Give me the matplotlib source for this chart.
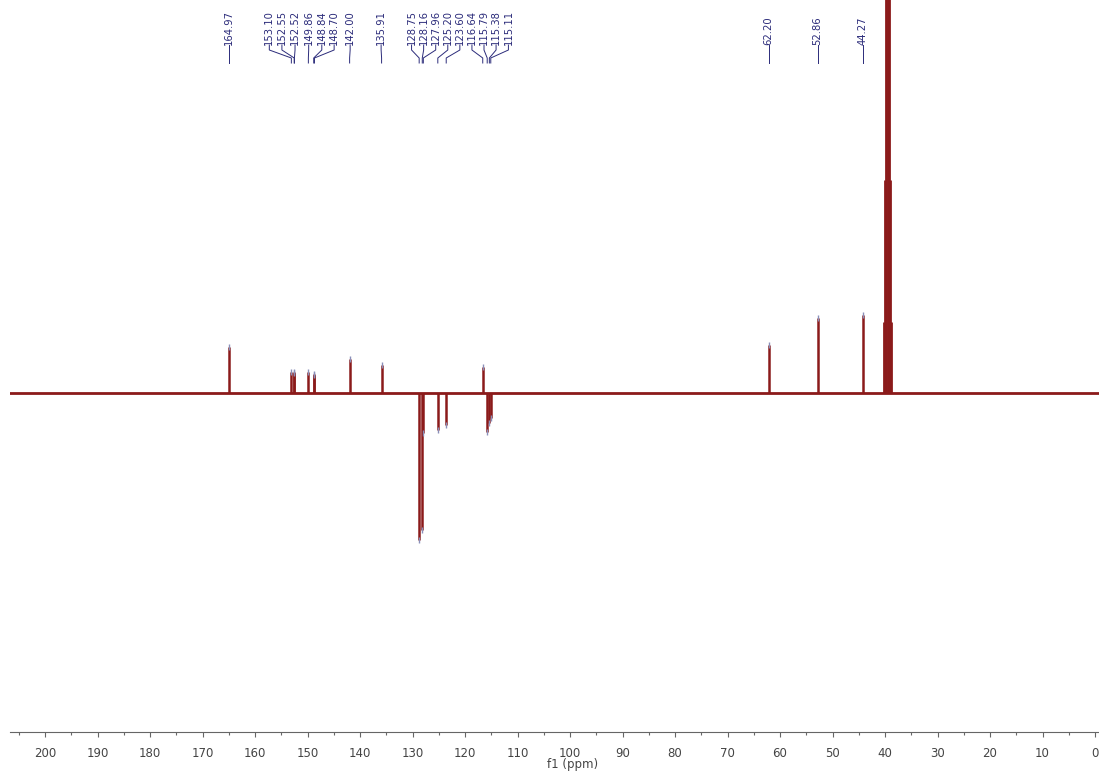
import numpy as np
import matplotlib
matplotlib.use("Agg")
import matplotlib.pyplot as plt
from matplotlib.ticker import MultipleLocator
import matplotlib.transforms as mtransforms

# picked peaks (ppm) and their heights (positive = CH/CH3, negative = CH2)
shift = [164.97, 153.10, 152.55, 152.52, 149.86, 148.84, 148.70, 142.00, 135.91,
         128.75, 128.16, 127.96, 125.20, 123.60, 116.64, 115.79, 115.38, 115.11,
         62.20, 52.86, 44.27]
height = [46, 21, 20, 21, 21, 19, 18, 34, 28,
          -147, -137, -40, -37, -32, 26, -39, -30, -25,
          48, 75, 78]

# where each label sits along the ppm axis (spread out from the peak)
label_pos = [164.97, 157.3, 154.9, 152.4, 149.8, 147.3, 144.95, 141.9, 136.0,
             130.2, 127.9, 125.6, 123.3, 121.0, 118.7, 116.4, 114.1, 111.75,
             62.20, 52.86, 44.27]

# DMSO-d6 septet, not labelled
solvent_shift = [40.15, 39.94, 39.73, 39.52, 39.31, 39.10, 38.89]
solvent_height = [71, 213, 426, 497, 426, 213, 71]

trace = "#8b1a1a"
lab_col = "#2b2b7a"

fig = plt.figure(figsize=(10.99, 7.73), dpi=100)
ax = fig.add_axes([10 / 1099, 41 / 773, 1089 / 1099, 732 / 773])

ax.axhline(0, color=trace, lw=2.0, zorder=2)
ax.vlines(shift, 0, height, color=trace, lw=1.8, zorder=3)
ax.vlines(solvent_shift, 0, solvent_height, color=trace, lw=2.0, zorder=3)
ax.plot(shift, height, "|", color="#8a8fb8", ms=5, mew=1, zorder=4)

ax.set_xlim(206.7, -0.76)
ax.set_ylim(-339, 393)

# labels with leader lines, y in axes fraction
tr = mtransforms.blended_transform_factory(ax.transData, ax.transAxes)
def fy(p):
    return (732 - p) / 732.0

for s, lx in zip(shift, label_pos):
    ax.text(lx, fy(45), "{:.2f}".format(s), rotation=90, ha="center", va="bottom",
            fontsize=7.2, color=lab_col, transform=tr)
    ax.plot([lx, lx, s, s], [fy(45), fy(50), fy(58), fy(63)],
            color=lab_col, lw=0.7, transform=tr, clip_on=False)

for side in ["left", "right", "top"]:
    ax.spines[side].set_visible(False)
ax.spines["bottom"].set_color("#666666")
ax.spines["bottom"].set_linewidth(0.8)
ax.set_yticks([])
ax.set_xticks(np.arange(0, 201, 10))
ax.xaxis.set_minor_locator(MultipleLocator(5))
ax.tick_params(axis="x", which="major", direction="out", length=3.6, width=0.8,
               color="#666666", labelsize=8.5, labelcolor="#444444", pad=7)
ax.tick_params(axis="x", which="minor", direction="out", length=2.2, width=0.8,
               color="#666666")
ax.set_xlabel("f1 (ppm)", fontsize=8.5, color="#444444")
ax.xaxis.set_label_coords(0.517, -0.036)

plt.savefig("out.png", dpi=100)
